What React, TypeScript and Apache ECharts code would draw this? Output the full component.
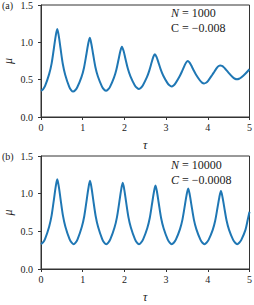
import React, { useEffect, useRef } from "react";
import * as echarts from "echarts";

const xTicks = [0, 1, 2, 3, 4, 5];
const yTicks = [0, 0.5, 1.0, 1.5];

const tauA = [0, 0.049, 0.098, 0.195, 0.254, 0.312, 0.351, 0.39, 0.428, 0.466, 0.523, 0.58, 0.675, 0.7225, 0.77,
  0.82, 0.87, 0.97, 1.03, 1.09, 1.13, 1.17, 1.209, 1.248, 1.3065, 1.365, 1.4625, 1.511, 1.56,
  1.6075, 1.655, 1.75, 1.807, 1.864, 1.902, 1.94, 1.981, 2.022, 2.0835, 2.145, 2.2475, 2.299, 2.35,
  2.3975, 2.445, 2.54, 2.597, 2.654, 2.692, 2.73, 2.77, 2.81, 2.87, 2.93, 3.03, 3.08, 3.13,
  3.179, 3.2275, 3.325, 3.3835, 3.442, 3.481, 3.52, 3.559, 3.598, 3.6565, 3.715, 3.8125, 3.861, 3.91,
  3.959, 4.0075, 4.105, 4.1635, 4.222, 4.261, 4.30, 4.34, 4.38, 4.44, 4.50, 4.60, 4.65, 4.70,
  4.75, 4.8, 4.9, 5.0];
const muA = [0.35, 0.371, 0.416, 0.574, 0.715, 0.931, 1.08, 1.18, 1.079, 0.928, 0.71, 0.567, 0.407, 0.361, 0.34,
  0.358, 0.398, 0.534, 0.657, 0.844, 0.974, 1.06, 0.975, 0.847, 0.662, 0.542, 0.407, 0.368, 0.35,
  0.368, 0.403, 0.527, 0.633, 0.781, 0.881, 0.94, 0.884, 0.787, 0.646, 0.545, 0.426, 0.392, 0.375,
  0.391, 0.426, 0.533, 0.621, 0.733, 0.803, 0.84, 0.806, 0.741, 0.638, 0.556, 0.457, 0.425, 0.41,
  0.423, 0.454, 0.546, 0.614, 0.689, 0.73, 0.75, 0.732, 0.696, 0.63, 0.57, 0.489, 0.461, 0.45,
  0.459, 0.485, 0.563, 0.613, 0.661, 0.683, 0.69, 0.684, 0.668, 0.631, 0.592, 0.532, 0.512, 0.505,
  0.512, 0.53, 0.58, 0.64];

const tauB = [0, 0.049, 0.098, 0.195, 0.254, 0.312, 0.351, 0.39, 0.429, 0.468, 0.5265, 0.585, 0.6825, 0.731, 0.78,
  0.829, 0.879, 0.978, 1.037, 1.096, 1.136, 1.175, 1.214, 1.253, 1.3115, 1.37, 1.4675, 1.516, 1.565,
  1.614, 1.664, 1.763, 1.822, 1.881, 1.921, 1.96, 1.999, 2.038, 2.0965, 2.155, 2.2525, 2.301, 2.35,
  2.399, 2.449, 2.548, 2.607, 2.666, 2.706, 2.745, 2.784, 2.823, 2.8815, 2.94, 3.0375, 3.086, 3.135,
  3.184, 3.234, 3.333, 3.392, 3.451, 3.491, 3.53, 3.569, 3.608, 3.6665, 3.725, 3.8225, 3.871, 3.92,
  3.969, 4.019, 4.118, 4.177, 4.236, 4.276, 4.315, 4.354, 4.393, 4.4515, 4.51, 4.6075, 4.656, 4.705,
  4.754, 4.804, 4.903, 4.96, 5.0];
const muB = [0.33, 0.352, 0.399, 0.562, 0.708, 0.932, 1.087, 1.19, 1.087, 0.932, 0.708, 0.562, 0.399, 0.352, 0.33,
  0.351, 0.397, 0.557, 0.70, 0.918, 1.069, 1.17, 1.069, 0.918, 0.70, 0.557, 0.397, 0.351, 0.33,
  0.35, 0.395, 0.55, 0.689, 0.90, 1.047, 1.145, 1.047, 0.90, 0.689, 0.55, 0.395, 0.35, 0.33,
  0.35, 0.392, 0.541, 0.673, 0.876, 1.016, 1.11, 1.016, 0.876, 0.673, 0.541, 0.392, 0.35, 0.33,
  0.349, 0.389, 0.53, 0.656, 0.848, 0.981, 1.07, 0.981, 0.848, 0.656, 0.53, 0.389, 0.349, 0.33,
  0.348, 0.386, 0.52, 0.64, 0.824, 0.95, 1.035, 0.95, 0.824, 0.64, 0.52, 0.386, 0.348, 0.33,
  0.348, 0.386, 0.52, 0.66, 0.76];

const panelLabels = ["(a)", "(b)"];
const nLabels = ["1000", "10000"];
const cLabels = ["\u22120.008", "\u22120.0008"];

const FONT = "Liberation Serif, Times New Roman, DejaVu Serif, serif";
const AXIS = "#333333";
const TEXT = "#222222";
const BLUE = "#1f77b4";

export default function App() {
  const ref = useRef<HTMLDivElement>(null);
  useEffect(() => {
    if (!ref.current) return;
    const chart = echarts.init(ref.current, undefined, { renderer: "svg" });
    const grids = [
      { left: 41, top: 5, width: 208.5, height: 112 },
      { left: 41, top: 156, width: 208.5, height: 113 },
    ];
    const mkX = (gi: number) => ({
      type: "value",
      gridIndex: gi,
      min: xTicks[0],
      max: xTicks[xTicks.length - 1],
      interval: 1,
      name: "τ",
      nameLocation: "middle",
      nameGap: 22,
      nameMoveOverlap: false,
      nameTextStyle: { fontFamily: FONT, fontSize: 12, fontStyle: "italic", color: TEXT },
      axisLine: { show: true, lineStyle: { color: AXIS, width: 1 } },
      axisTick: { show: true, length: 3, lineStyle: { color: AXIS } },
      axisLabel: { fontFamily: FONT, fontSize: 10, color: TEXT, margin: 5 },
      splitLine: { show: false },
    });
    const mkY = (gi: number) => ({
      type: "value",
      gridIndex: gi,
      min: yTicks[0],
      max: yTicks[yTicks.length - 1],
      interval: 0.5,
      name: "μ",
      nameLocation: "middle",
      nameRotate: 90,
      nameGap: 27,
      nameMoveOverlap: false,
      nameTextStyle: { fontFamily: FONT, fontSize: 12, fontStyle: "italic", color: TEXT },
      axisLine: { show: true, lineStyle: { color: AXIS, width: 1 } },
      axisTick: { show: true, length: 3, lineStyle: { color: AXIS } },
      axisLabel: {
        fontFamily: FONT, fontSize: 10, color: TEXT, margin: 8,
        formatter: (v: number) => v.toFixed(1),
      },
      splitLine: { show: false },
    });
    const textBase = { fontFamily: FONT, fontSize: 12, fill: TEXT, textVerticalAlign: "middle" };
    const graphic: any[] = [];
    const tops = [0, 151];
    [0, 1].forEach((i) => {
      const t = tops[i];
      graphic.push({
        type: "text", x: 2, y: t + 5.5,
        style: { text: panelLabels[i], fontFamily: FONT, fontSize: 10, fill: TEXT, textVerticalAlign: "middle" },
      });
      graphic.push({
        type: "text", x: 171, y: t + (i === 0 ? 12.5 : 13.5),
        style: {
          ...textBase,
          text: "{i|N} = " + nLabels[i],
          rich: { i: { fontStyle: "italic", fontFamily: FONT, fontSize: 12, fill: TEXT } },
        },
      });
      graphic.push({
        type: "text", x: 171, y: t + (i === 0 ? 27.5 : 29),
        style: {
          ...textBase,
          text: (i === 0 ? "C" : "{i|C}") + " = " + cLabels[i],
          rich: { i: { fontStyle: "italic", fontFamily: FONT, fontSize: 12, fill: TEXT } },
        },
      });
    });
    chart.setOption({
      animation: false,
      backgroundColor: "#ffffff",
      grid: grids.map((g) => ({
        ...g, show: true, borderColor: AXIS, borderWidth: 1, backgroundColor: "transparent",
        containLabel: false, outerBoundsMode: "none",
      })),
      xAxis: [mkX(0), mkX(1)],
      yAxis: [mkY(0), mkY(1)],
      series: [
        {
          type: "line", xAxisIndex: 0, yAxisIndex: 0, showSymbol: false, smooth: 0.3,
          lineStyle: { color: BLUE, width: 2 },
          data: tauA.map((t, k) => [t, muA[k]]),
        },
        {
          type: "line", xAxisIndex: 1, yAxisIndex: 1, showSymbol: false, smooth: 0.3,
          lineStyle: { color: BLUE, width: 2 },
          data: tauB.map((t, k) => [t, muB[k]]),
        },
      ],
      graphic,
    } as any);
    return () => chart.dispose();
  }, []);
  return (
    <div
      ref={ref}
      style={{ position: "fixed", left: 0, top: 0, width: 254, height: 305, background: "#fff" }}
    />
  );
}
